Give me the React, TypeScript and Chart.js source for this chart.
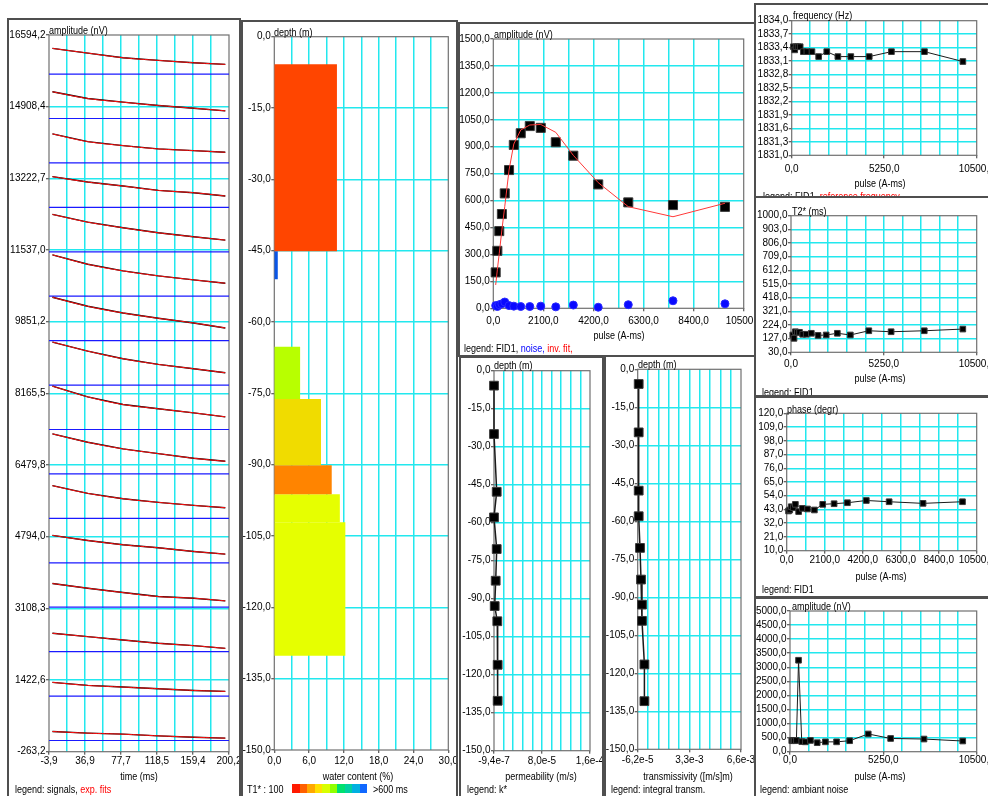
import React, { useEffect, useRef } from "react";
import { Chart, registerables } from "chart.js";

Chart.register(...registerables);

const FONT = '"Liberation Sans", Arial, sans-serif';
const TICK_SIZE = 10;
const TEXT_SIZE = 11;
const NARROW = 0.82;
const GRID = "#22e8ee";
const BOX = "#707070";
const BW = 2;
const EXTRA = 60;

// ---------------- data: pulse-moment series ----------------
const pulseMoments = [100, 170, 250, 360, 480, 660, 860, 1150, 1530, 1990, 2620, 3355, 4400, 5660, 7535, 9715];
const fid1Amplitude = [200, 320, 430, 525, 640, 770, 910, 975, 1015, 1005, 925, 850, 690, 590, 575, 565];
const invFitAmplitude = [130, 215, 306, 436, 566, 770, 915, 993, 1021, 1024, 980, 852, 700, 566, 510, 585];
const noiseAmplitude = [15, 10, 20, 25, 35, 15, 12, 10, 10, 12, 8, 18, 6, 20, 42, 25];
const fid1Frequency = [1833.42, 1833.35, 1833.42, 1833.42, 1833.42, 1833.31, 1833.31, 1833.31, 1833.2, 1833.31, 1833.2, 1833.2, 1833.2, 1833.31, 1833.31, 1833.09];
const fid1T2star = [153, 129, 176, 172, 172, 158, 158, 165, 150, 153, 165, 153, 183, 176, 183, 195];
const fid1Phase = [41.8, 42.6, 45.2, 44.4, 47.1, 41.3, 43.9, 43.4, 42.6, 47.1, 47.6, 48.4, 50.2, 49.2, 47.9, 49.2];
const ambientNoise = [390, 400, 390, 400, 3250, 360, 350, 400, 320, 350, 350, 390, 630, 470, 450, 380];

// ---------------- data: signals (one per pulse, bottom = pulse 1) ----------------
const signalTimes = [0, 40, 80, 120, 160, 196];
const signalOffsets = [0, 1045, 2090, 3135, 4180, 5225, 6270, 7315, 8360, 9405, 10450, 11495, 12540, 13585, 14630, 15675];
const signalAmps = [
  [212, 173, 149, 110, 78, 55],
  [322, 251, 212, 173, 133, 110],
  [432, 353, 275, 196, 141, 78],
  [557, 447, 345, 251, 212, 149],
  [644, 526, 424, 353, 267, 204],
  [769, 589, 463, 377, 306, 251],
  [942, 746, 589, 479, 369, 298],
  [1020, 769, 589, 487, 392, 298],
  [1012, 800, 620, 487, 385, 290],
  [1020, 808, 651, 526, 416, 298],
  [973, 753, 596, 479, 385, 306],
  [879, 698, 565, 447, 353, 275],
  [722, 596, 502, 400, 345, 267],
  [683, 502, 408, 330, 290, 251],
  [628, 471, 385, 306, 243, 180],
  [604, 494, 385, 322, 267, 228],
];

// ---------------- data: water content layers ----------------
const layerTop = [-5.8, -45.1, -65.2, -76.2, -90.1, -96.2, -102.1];
const layerBottom = [-45.1, -51.0, -76.2, -90.1, -96.2, -102.1, -130.2];
const waterContent = [10.8, 0.6, 4.45, 8.05, 9.9, 11.3, 12.25];
const layerColors = ["#ff4500", "#0a55e6", "#b8ff00", "#f0dc00", "#ff8400", "#e6ff00", "#e6ff00"];
const t1Colors = ["#ff1a00", "#ff6000", "#ffa800", "#ffe000", "#d8ff00", "#90ff00", "#00e070", "#00d0a0", "#00b0e0", "#1068ff"];

// ---------------- data: hydraulic profiles ----------------
const kDepth = [-5.9, -25.0, -47.8, -57.9, -70.4, -82.9, -92.9, -98.9, -116.1, -130.3];
const kValue = [-9.4e-7, -9.4e-7, 3.6e-6, -9.4e-7, 3.6e-6, 1.9e-6, 2.3e-7, 4.6e-6, 5.2e-6, 5.2e-6];
const tDepth = [-5.8, -24.9, -47.9, -58.0, -70.5, -83.0, -92.9, -99.3, -116.5, -131.0];
const tValue = [2e-6, 2e-6, 2e-6, 2e-6, 8.6e-5, 1.51e-4, 2.15e-4, 2.15e-4, 3.7e-4, 3.7e-4];

// ---------------- tick labels ----------------
const timeTicks = [-3.9, 16.5, 36.9, 57.3, 77.7, 98.1, 118.5, 139.0, 159.4, 179.8, 200.2];
const timeLabels = ["-3,9", "", "36,9", "", "77,7", "", "118,5", "", "159,4", "", "200,2"];
const signalAxisLabels = ["-263,2", "1422,6", "3108,3", "4794,0", "6479,8", "8165,5", "9851,2", "11537,0", "13222,7", "14908,4", "16594,2"];
const depthLabels = ["-150,0", "-135,0", "-120,0", "-105,0", "-90,0", "-75,0", "-60,0", "-45,0", "-30,0", "-15,0", "0,0"];
const waterTicks = [0, 3, 6, 9, 12, 15, 18, 21, 24, 27, 30];
const waterLabels = ["0,0", "", "6,0", "", "12,0", "", "18,0", "", "24,0", "", "30,0"];
const pulseTicks = [0, 1050, 2100, 3150, 4200, 5250, 6300, 7350, 8400, 9450, 10500];
const pulseLabels6 = ["0,0", "", "2100,0", "", "4200,0", "", "6300,0", "", "8400,0", "", "10500,0"];
const pulseLabels3 = ["0,0", "", "", "", "", "5250,0", "", "", "", "", "10500,0"];
const amplitudeLabels = ["0,0", "150,0", "300,0", "450,0", "600,0", "750,0", "900,0", "1050,0", "1200,0", "1350,0", "1500,0"];
const permTicks = [-9.4e-7, 1.515e-5, 3.124e-5, 4.733e-5, 6.343e-5, 7.953e-5, 9.562e-5, 1.117e-4, 1.278e-4, 1.439e-4, 1.6e-4];
const permLabels = ["-9,4e-7", "", "", "", "", "8,0e-5", "", "", "", "", "1,6e-4"];
const transTicks = [-6.2e-5, 6.04e-4, 1.27e-3, 1.937e-3, 2.603e-3, 3.269e-3, 3.935e-3, 4.601e-3, 5.268e-3, 5.934e-3, 6.6e-3];
const transLabels = ["-6,2e-5", "", "", "", "", "3,3e-3", "", "", "", "", "6,6e-3"];
const freqLabels = ["1831,0", "1831,3", "1831,6", "1831,9", "1832,2", "1832,5", "1832,8", "1833,1", "1833,4", "1833,7", "1834,0"];
const t2Labels = ["30,0", "127,0", "224,0", "321,0", "418,0", "515,0", "612,0", "709,0", "806,0", "903,0", "1000,0"];
const phaseLabels = ["10,0", "21,0", "32,0", "43,0", "54,0", "65,0", "76,0", "87,0", "98,0", "109,0", "120,0"];
const noiseLabels = ["0,0", "500,0", "1000,0", "1500,0", "2000,0", "2500,0", "3000,0", "3500,0", "4000,0", "4500,0", "5000,0"];

const num = (s: string) => parseFloat(s.replace(",", "."));
const axisFromLabels = (labels: string[]) => ({ ticks: labels.map(num), labels });

type AxisSpec = { ticks: number[]; labels: string[] };
type TextSpec = { x: number; y: number; content: React.ReactNode; center?: boolean };

const boxPlugin = {
  id: "plotBox",
  beforeDatasetsDraw(chart: any) {
    const { ctx, chartArea: a } = chart;
    ctx.save();
    ctx.strokeStyle = BOX;
    ctx.lineWidth = 1.2;
    ctx.strokeRect(a.left, a.top, a.right - a.left, a.bottom - a.top);
    ctx.restore();
  },
};

const pts = (xs: number[], ys: number[]) => xs.map((x, i) => ({ x, y: ys[i] }));

function squares(xs: number[], ys: number[], r: number, line: boolean, lineWidth = 1) {
  return {
    data: pts(xs, ys),
    showLine: line,
    borderColor: "#1a1a1a",
    borderWidth: lineWidth,
    pointStyle: "rect",
    pointRadius: r,
    pointBackgroundColor: "#000",
    pointBorderColor: "#3a3a3a",
    pointBorderWidth: 1,
    clip: false,
  };
}

function Panel(props: {
  frame: number[];
  plot: number[];
  x: AxisSpec;
  y: AxisSpec;
  datasets: any[];
  xPad: number;
  texts: TextSpec[];
  extra?: React.ReactNode;
}) {
  const { frame, plot, x, y, datasets, xPad, texts, extra } = props;
  const ref = useRef<HTMLCanvasElement>(null);
  const [fl, ft, fr, fb] = frame;
  const cl = fl + BW;
  const ct = ft + BW;
  const cw = fr - fl - 2 * BW + EXTRA;
  const ch = fb - ft - 2 * BW;

  useEffect(() => {
    const [pl, pt, pr, pb] = plot;
    const yW = pl - cl;
    const xH = ct + ch - pb;
    const axisOpts = (a: AxisSpec, isX: boolean) => ({
      type: "linear",
      position: isX ? "bottom" : "left",
      min: a.ticks[0],
      max: a.ticks[a.ticks.length - 1],
      bounds: "data",
      afterBuildTicks: (s: any) => {
        s.ticks = a.ticks.map((v) => ({ value: v }));
      },
      afterFit: (s: any) => {
        if (isX) s.height = xH;
        else s.width = yW;
      },
      ticks: {
        autoSkip: false,
        maxRotation: 0,
        minRotation: 0,
        padding: isX ? xPad : 0.5,
        color: "#000",
        font: { family: FONT, size: TICK_SIZE, lineHeight: 1.2 },
        callback: (_v: any, i: number) => a.labels[i],
      },
      grid: {
        color: (c: any) => (c.index === 0 || c.index === a.ticks.length - 1 ? "rgba(0,0,0,0)" : GRID),
        lineWidth: 1.5,
        drawTicks: true,
        tickLength: 3,
        tickWidth: 1,
        tickColor: (c: any) => (a.labels[c.index] ? "#333" : "rgba(0,0,0,0)"),
      },
      border: { display: false },
    });
    const chart = new Chart(ref.current as HTMLCanvasElement, {
      type: "line",
      data: { datasets },
      options: {
        responsive: false,
        animation: false,
        devicePixelRatio: 1,
        events: [],
        layout: { padding: { left: 0, top: pt - ct, right: cl + cw - pr, bottom: 0 } },
        plugins: { legend: { display: false }, tooltip: { enabled: false } },
        scales: { x: axisOpts(x, true) as any, y: axisOpts(y, false) as any },
      },
      plugins: [boxPlugin],
    });
    return () => chart.destroy();
  }, []);

  return (
    <div
      style={{
        position: "absolute",
        left: fl,
        top: ft,
        width: fr - fl,
        height: fb - ft,
        boxSizing: "border-box",
        border: `${BW}px solid #4f4f4f`,
        overflow: "hidden",
        background: "#fff",
      }}
    >
      <canvas ref={ref} width={cw} height={ch} style={{ position: "absolute", left: 0, top: 0, width: cw, height: ch }} />
      {texts.map((t, i) => (
        <div
          key={i}
          style={{
            position: "absolute",
            left: t.x - cl,
            top: t.y - 7 - ct,
            height: 14,
            lineHeight: "14px",
            fontSize: TEXT_SIZE,
            fontFamily: FONT,
            whiteSpace: "nowrap",
            color: "#000",
            transformOrigin: t.center ? "center center" : "left center",
            transform: t.center ? `translateX(-50%) scaleX(${NARROW})` : `scaleX(${NARROW})`,
          }}
        >
          {t.content}
        </div>
      ))}
      {extra}
    </div>
  );
}

const red = (s: string) => <span style={{ color: "#ff0000" }}>{s}</span>;
const blue = (s: string) => <span style={{ color: "#0000ff" }}>{s}</span>;

export default function App() {
  const signalSets: any[] = [];
  signalAmps.forEach((amps, i) => {
    const ys = amps.map((a) => a + signalOffsets[i]);
    signalSets.push({ data: pts(signalTimes, ys), borderColor: "#ff1010", borderWidth: 1, pointRadius: 0, tension: 0.4 });
    signalSets.push({ data: pts(signalTimes, ys), borderColor: "#000", borderWidth: 1.4, pointRadius: 0, tension: 0 });
  });
  signalOffsets.forEach((o) => {
    signalSets.push({ data: pts([timeTicks[0], timeTicks[timeTicks.length - 1]], [o, o]), borderColor: "#1a1aff", borderWidth: 1.2, pointRadius: 0 });
  });

  const layerSets = waterContent.map((w, i) => ({
    data: pts([0, w, w, 0], [layerTop[i], layerTop[i], layerBottom[i], layerBottom[i]]),
    fill: "shape",
    backgroundColor: layerColors[i],
    borderColor: "rgba(0,0,0,0)",
    borderWidth: 0,
    pointRadius: 0,
  }));

  const ampSets = [
    { data: pts(pulseMoments, invFitAmplitude), borderColor: "#ff3838", borderWidth: 1, pointRadius: 0, clip: false },
    squares(pulseMoments, fid1Amplitude, 6.4, false),
    { data: pts(pulseMoments, noiseAmplitude), showLine: false, pointRadius: 4, pointBackgroundColor: "#0a0aff", pointBorderColor: "#2a2aff", pointBorderWidth: 1, clip: false },
  ];

  const colorBar = (
    <div style={{ position: "absolute", left: 292 - 243, top: 784 - 22, height: 9, display: "flex" }}>
      {t1Colors.map((c, i) => (
        <div key={i} style={{ width: 7.5, height: 9, background: c }} />
      ))}
    </div>
  );

  return (
    <div style={{ position: "absolute", left: 0, top: 0, width: 988, height: 796, overflow: "hidden", background: "#fff" }}>
      <Panel
        frame={[7, 18, 241, 800]}
        plot={[49, 35, 229, 751.7]}
        x={{ ticks: timeTicks, labels: timeLabels }}
        y={axisFromLabels(signalAxisLabels)}
        datasets={signalSets}
        xPad={0.7}
        texts={[
          { x: 49, y: 29.5, content: "amplitude (nV)" },
          { x: 139, y: 776, content: "time (ms)", center: true },
          { x: 15, y: 789, content: <>legend: signals, {red("exp. fits")}</> },
        ]}
      />
      <Panel
        frame={[241, 20, 458, 800]}
        plot={[274.3, 36.7, 448.3, 750]}
        x={{ ticks: waterTicks, labels: waterLabels }}
        y={axisFromLabels(depthLabels)}
        datasets={layerSets}
        xPad={2}
        texts={[
          { x: 274, y: 31.5, content: "depth (m)" },
          { x: 358, y: 776, content: "water content (%)", center: true },
          { x: 247, y: 789, content: "T1* : 100" },
          { x: 373, y: 789, content: ">600 ms" },
        ]}
        extra={colorBar}
      />
      <Panel
        frame={[458, 22, 757, 357]}
        plot={[493.3, 39, 743.7, 308.3]}
        x={{ ticks: pulseTicks, labels: pulseLabels6 }}
        y={axisFromLabels(amplitudeLabels)}
        datasets={ampSets}
        xPad={3.8}
        texts={[
          { x: 494, y: 34, content: "amplitude (nV)" },
          { x: 619, y: 335, content: "pulse (A-ms)", center: true },
          { x: 464, y: 348, content: <>legend: FID1, {blue("noise,")} {red("inv. fit,")}</> },
        ]}
      />
      <Panel
        frame={[459, 356, 604, 800]}
        plot={[494, 370.7, 590, 750.7]}
        x={{ ticks: permTicks, labels: permLabels }}
        y={axisFromLabels(depthLabels)}
        datasets={[squares(kValue, kDepth, 6.2, true, 1.5)]}
        xPad={2}
        texts={[
          { x: 494, y: 365, content: "depth (m)" },
          { x: 541, y: 776, content: "permeability (m/s)", center: true },
          { x: 467, y: 789, content: "legend: k*" },
        ]}
      />
      <Panel
        frame={[604, 355, 757, 800]}
        plot={[637.7, 369.3, 741, 749.3]}
        x={{ ticks: transTicks, labels: transLabels }}
        y={axisFromLabels(depthLabels)}
        datasets={[squares(tValue, tDepth, 6.2, true, 1.5)]}
        xPad={2}
        texts={[
          { x: 638, y: 364, content: "depth (m)" },
          { x: 688, y: 776, content: "transmissivity ([m/s]m)", center: true },
          { x: 611, y: 789, content: "legend: integral transm." },
        ]}
      />
      <Panel
        frame={[754, 3, 992, 198]}
        plot={[791.7, 20.7, 976.7, 155.3]}
        x={{ ticks: pulseTicks, labels: pulseLabels3 }}
        y={axisFromLabels(freqLabels)}
        datasets={[squares(pulseMoments, fid1Frequency, 4, true)]}
        xPad={5}
        texts={[
          { x: 793, y: 15, content: "frequency (Hz)" },
          { x: 880, y: 183, content: "pulse (A-ms)", center: true },
          { x: 763, y: 195.5, content: <>legend: FID1, {red("reference frequency")}</> },
        ]}
      />
      <Panel
        frame={[754, 196, 992, 397]}
        plot={[791, 215.7, 976.7, 352.3]}
        x={{ ticks: pulseTicks, labels: pulseLabels3 }}
        y={axisFromLabels(t2Labels)}
        datasets={[squares(pulseMoments, fid1T2star, 4, true)]}
        xPad={3}
        texts={[
          { x: 792, y: 210.5, content: "T2* (ms)" },
          { x: 880, y: 378, content: "pulse (A-ms)", center: true },
          { x: 762, y: 391.7, content: "legend: FID1" },
        ]}
      />
      <Panel
        frame={[754, 396, 992, 598]}
        plot={[786.7, 413.3, 976.7, 550.7]}
        x={{ ticks: pulseTicks, labels: pulseLabels6 }}
        y={axisFromLabels(phaseLabels)}
        datasets={[squares(pulseMoments, fid1Phase, 4, true)]}
        xPad={0.5}
        texts={[
          { x: 787, y: 408.5, content: "phase (degr)" },
          { x: 881, y: 576, content: "pulse (A-ms)", center: true },
          { x: 762, y: 588.5, content: "legend: FID1" },
        ]}
      />
      <Panel
        frame={[754, 597, 992, 800]}
        plot={[790, 611, 976.7, 751.7]}
        x={{ ticks: pulseTicks, labels: pulseLabels3 }}
        y={axisFromLabels(noiseLabels)}
        datasets={[squares(pulseMoments, ambientNoise, 4, true)]}
        xPad={0}
        texts={[
          { x: 792, y: 606, content: "amplitude (nV)" },
          { x: 880, y: 776, content: "pulse (A-ms)", center: true },
          { x: 760, y: 788.5, content: "legend: ambiant noise" },
        ]}
      />
    </div>
  );
}
